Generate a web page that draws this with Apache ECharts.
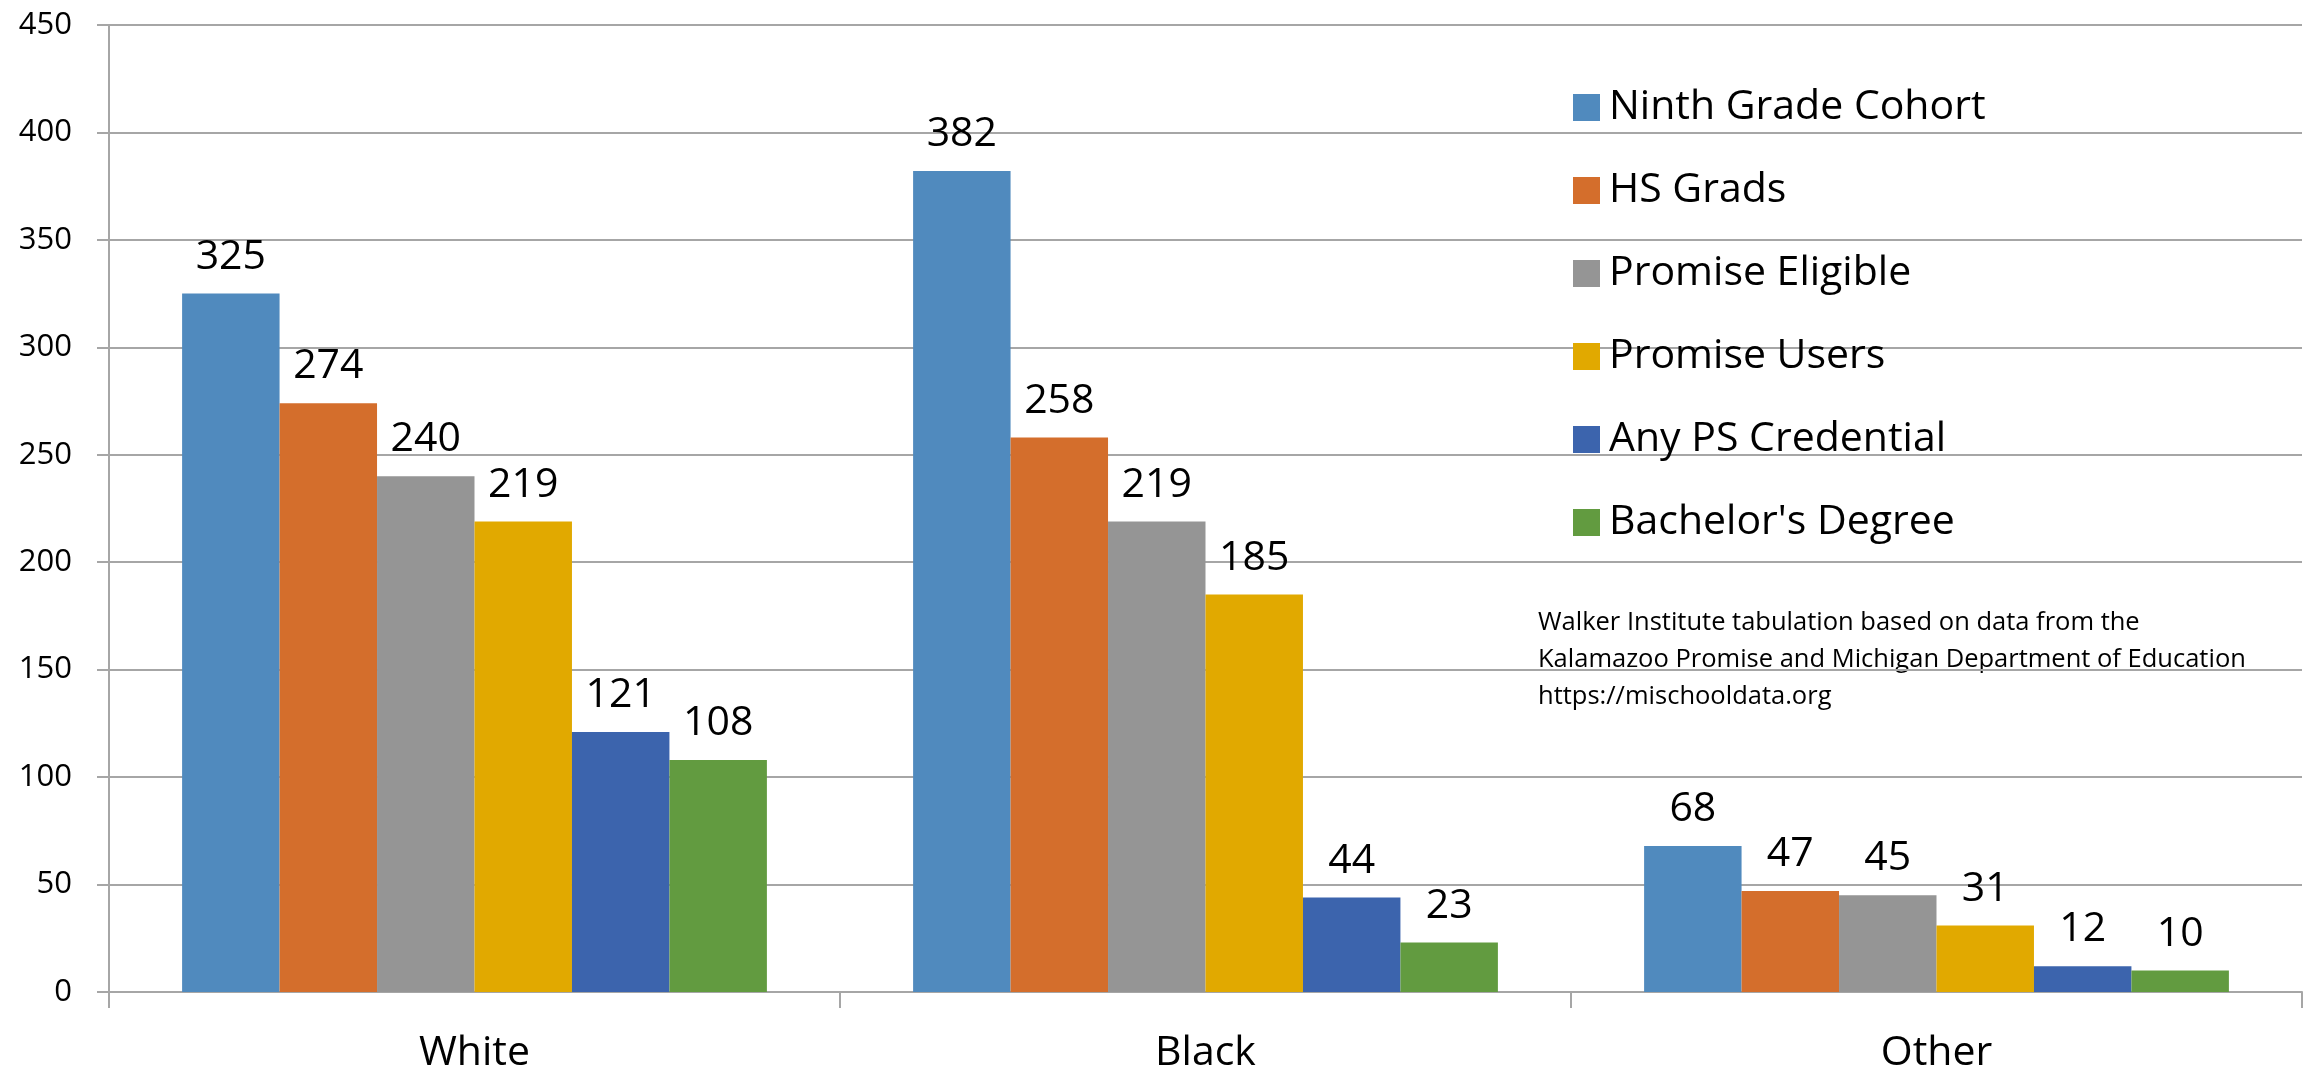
<!DOCTYPE html>
<html>
<head>
<meta charset="utf-8">
<title>Kalamazoo Promise outcomes by race</title>
<script src="https://cdn.jsdelivr.net/npm/echarts@6/dist/echarts.min.js"></script>
<style>
  html, body { margin: 0; padding: 0; background: #ffffff; }
  #chart { width: 2313px; height: 1074px; }
</style>
</head>
<body>
<div id="chart"></div>
<script>
// Groups along the x axis
const categories = ['White', 'Black', 'Other'];

// Series names and counts per group
const seriesNames = [
  'Ninth Grade Cohort',
  'HS Grads',
  'Promise Eligible',
  'Promise Users',
  'Any PS Credential',
  "Bachelor's Degree"
];
const ninthGradeCohort = [325, 382, 68];
const hsGrads = [274, 258, 47];
const promiseEligible = [240, 219, 45];
const promiseUsers = [219, 185, 31];
const anyPsCredential = [121, 44, 12];
const bachelorsDegree = [108, 23, 10];

const seriesValues = [
  ninthGradeCohort, hsGrads, promiseEligible,
  promiseUsers, anyPsCredential, bachelorsDegree
];
const seriesColors = ['#508ABE', '#D46E2C', '#959595', '#E1A900', '#3C64AD', '#629B40'];

const sourceNote = [
  'Walker Institute tabulation based on data from the',
  'Kalamazoo Promise and Michigan Department of Education',
  'https://mischooldata.org'
];

const FONT = '"Open Sans", "Noto Sans", sans-serif';
const GRID_COLOR = '#A6A6A6';

const chart = echarts.init(document.getElementById('chart'), null, { renderer: 'canvas' });

chart.setOption({
  backgroundColor: '#ffffff',
  animation: false,
  textStyle: { fontFamily: FONT, color: '#000000' },
  grid: { left: 109, right: 11, top: 25, bottom: 81, containLabel: false },
  legend: {
    orient: 'vertical',
    left: 1568,
    top: 82,
    itemWidth: 27,
    itemHeight: 27,
    itemGap: 42,
    icon: 'rect',
    textStyle: { fontFamily: FONT, fontSize: 41, color: '#000000', padding: [0, 0, 0, 4] },
    data: seriesNames
  },
  graphic: [{
    type: 'text',
    left: 1538,
    top: 604,
    style: {
      text: sourceNote.join('\n'),
      fontFamily: FONT,
      fontSize: 25.5,
      lineHeight: 37,
      fill: '#000000'
    }
  }],
  xAxis: {
    type: 'category',
    data: categories,
    axisLine: { show: true, lineStyle: { color: GRID_COLOR, width: 2 } },
    axisTick: { show: true, length: 16, lineStyle: { color: GRID_COLOR, width: 2 } },
    axisLabel: { fontFamily: FONT, fontSize: 41, color: '#000000', margin: 41 }
  },
  yAxis: {
    type: 'value',
    min: 0,
    max: 450,
    interval: 50,
    axisLine: { show: true, lineStyle: { color: GRID_COLOR, width: 2 } },
    axisTick: { show: true, length: 12, lineStyle: { color: GRID_COLOR, width: 2 } },
    splitLine: { show: true, lineStyle: { color: GRID_COLOR, width: 2 } },
    axisLabel: { fontFamily: FONT, fontSize: 31, color: '#000000', margin: 37 }
  },
  series: seriesNames.map((name, i) => ({
    name: name,
    type: 'bar',
    data: seriesValues[i],
    barGap: '0%',
    barCategoryGap: '20%',
    itemStyle: { color: seriesColors[i] },
    label: {
      show: true,
      position: 'top',
      distance: 16,
      fontFamily: FONT,
      fontSize: 41,
      color: '#000000'
    }
  }))
});
</script>
</body>
</html>
